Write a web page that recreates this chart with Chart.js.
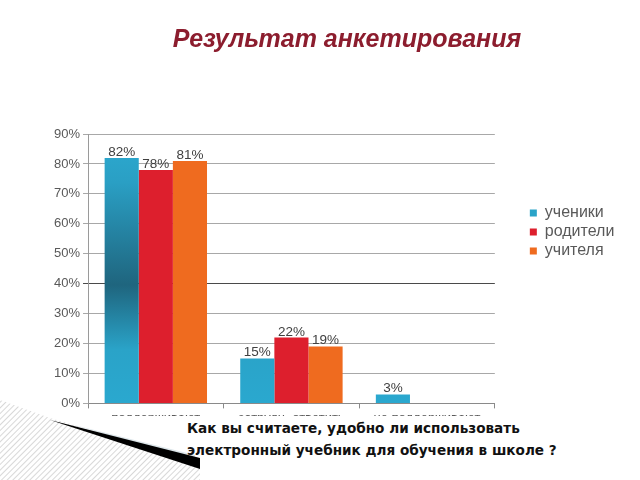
<!DOCTYPE html>
<html>
<head>
<meta charset="utf-8">
<script src="https://cdn.jsdelivr.net/npm/chart.js@4.4.1/dist/chart.umd.min.js"></script>
<style>
  html, body { margin: 0; padding: 0; background: #fff; overflow: hidden; }
  body { width: 640px; height: 480px; position: relative; }
  #wrap { position: absolute; left: 0; top: 0; width: 640px; height: 480px; }
  #title { position: absolute; left: 0; width: 694px; top: 23px; text-align: center;
    font-family: "Liberation Sans", Arial, sans-serif; font-weight: bold; font-style: italic;
    font-size: 25px; line-height: 30px; color: #8c1d2e; white-space: nowrap; }
  #cover { position: absolute; left: 0; top: 416px; width: 640px; height: 64px; background: #fff; }
  #decor { position: absolute; left: 0; top: 0; }
  #question { position: absolute; left: 187px; top: 417px; font-family: "DejaVu Sans", sans-serif;
    font-weight: bold; font-size: 13.6px; line-height: 22px; color: #111; white-space: nowrap; }
</style>
</head>
<body>
<div id="wrap"><canvas id="c" width="640" height="480"></canvas></div>
<div id="title">Результат анкетирования</div>
<div id="cover"></div>
<svg id="decor" width="640" height="480">
  <defs>
    <pattern id="hatch" width="4" height="4" patternUnits="userSpaceOnUse" patternTransform="rotate(45)">
      <rect width="4" height="4" fill="#ffffff"/>
      <line x1="0" y1="0" x2="0" y2="4" stroke="#c8c8c8" stroke-width="1.4"/>
    </pattern>
  </defs>
  <polygon points="0,400 50,418 200,462 200,480 0,480" fill="url(#hatch)"/>
  <polygon points="70,424 195,455 195,460" fill="#dde6ea"/>
  <polygon points="50,420 200,458 200,469" fill="#000"/>
</svg>
<div id="question">Как вы считаете, удобно ли использовать<br>электронный учебник для обучения в школе ?</div>
<script>
const categories = ["поддерживают", "затрудн. ответить", "не поддерживают"];
const seriesNames = ["ученики", "родители", "учителя"];
const pupils = [82, 15, 3];
const parents = [78, 22, 0];
const teachers = [81, 19, 0];
const yTicks = [0, 10, 20, 30, 40, 50, 60, 70, 80, 90];

const flatColors = ["#2aa3c8", "#dd1f2d", "#ef6b1f"];

function tealGradient(ctx) {
  const chart = ctx.chart;
  const y = chart.scales.y;
  if (!y || !chart.chartArea) return flatColors[0];
  const top = y.getPixelForValue(90), bottom = y.getPixelForValue(0);
  const g = chart.ctx.createLinearGradient(0, top, 0, bottom);
  g.addColorStop(0, "#2cabd2");
  g.addColorStop(0.18, "#2a9fc4");
  g.addColorStop(0.56, "#1f657e");
  g.addColorStop(0.8, "#2aa3c8");
  g.addColorStop(1, "#2aa8cf");
  return g;
}

const valueLabels = {
  id: "valueLabels",
  afterDatasetsDraw(chart) {
    const ctx = chart.ctx;
    ctx.save();
    ctx.font = "13.5px 'Liberation Sans', Arial, sans-serif";
    ctx.fillStyle = "#404040";
    ctx.textAlign = "center";
    ctx.textBaseline = "bottom";
    chart.data.datasets.forEach((ds, i) => {
      const meta = chart.getDatasetMeta(i);
      meta.data.forEach((el, j) => {
        const v = ds.data[j];
        if (!v) return;
        ctx.fillText(v + "%", el.x, el.y + 1);
      });
    });
    ctx.restore();
  }
};

new Chart(document.getElementById("c"), {
  type: "bar",
  data: {
    labels: categories,
    datasets: [
      { label: seriesNames[0], data: pupils, backgroundColor: tealGradient },
      { label: seriesNames[1], data: parents, backgroundColor: flatColors[1] },
      { label: seriesNames[2], data: teachers, backgroundColor: flatColors[2] }
    ]
  },
  options: {
    responsive: false,
    animation: false,
    devicePixelRatio: 1,
    layout: { padding: { left: 51, top: 134, bottom: 52, right: 18 } },
    datasets: { bar: { categoryPercentage: 0.755, barPercentage: 1.0, borderWidth: 0 } },
    scales: {
      x: {
        grid: { offset: true, drawOnChartArea: false, drawTicks: true, tickLength: 5, color: "#8a8a8a" },
        border: { color: "#8a8a8a" },
        ticks: { color: "#595959", padding: 2, font: { family: "'Liberation Sans', Arial, sans-serif", size: 13 } }
      },
      y: {
        min: 0, max: 90,
        afterBuildTicks: (s) => { s.ticks = yTicks.map(v => ({ value: v })); },
        grid: {
          color: (c) => (c.tick && c.tick.value === 40) ? "#4a4a4a" : "#a8a8a8",
          lineWidth: 1, tickLength: 5
        },
        border: { color: "#9a9a9a" },
        ticks: { color: "#595959", padding: 3, callback: (v) => v + "%",
          font: { family: "'Liberation Sans', Arial, sans-serif", size: 13 } }
      },
      gap: {
        position: "right", display: true,
        grid: { display: false }, ticks: { display: false }, border: { display: false },
        afterFit: (s) => { s.width = 32; }
      }
    },
    plugins: {
      legend: {
        position: "right", align: "start", fullSize: false,
        title: { display: true, text: " ", font: { size: 10 }, padding: { top: 56, bottom: 0 } },
        labels: {
          boxWidth: 7, boxHeight: 7, padding: 3, color: "#595959",
          font: { family: "'Liberation Sans', Arial, sans-serif", size: 16, lineHeight: 1.1 },
          generateLabels: (chart) => Chart.defaults.plugins.legend.labels.generateLabels(chart)
            .map((l, i) => Object.assign(l, { fillStyle: flatColors[i], strokeStyle: flatColors[i], lineWidth: 0 }))
        }
      },
      tooltip: { enabled: false }
    }
  },
  plugins: [valueLabels]
});
</script>
</body>
</html>
